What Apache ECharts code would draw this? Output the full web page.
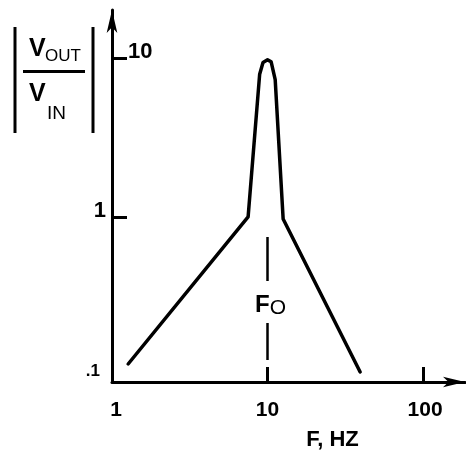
<!DOCTYPE html>
<html>
<head>
<meta charset="utf-8">
<script src="https://cdn.jsdelivr.net/npm/echarts@6/dist/echarts.min.js"></script>
<style>
  html, body { margin: 0; padding: 0; background: #fff; }
  #chart { width: 466px; height: 452px; }
</style>
</head>
<body>
<div id="chart"></div>
<script>
// Band-pass response: |Vout/Vin| against frequency (log–log)
const freqHz    = [1.27, 7.5, 8.9, 9.35, 10.0, 10.55, 11.2, 12.6, 39.4];
const gainRatio = [0.119, 1.0, 7.9, 9.35, 9.72, 9.45, 7.3, 0.97, 0.106];

// Axis ticks and labels
const xTickValues  = [10, 100];
const xLabelValues = [1, 10, 100];
const yTickValues  = [1, 10];
const yLeftLabels  = [0.1, 1];
const yRightLabels = [10];

// Centre frequency marker
const centreFreq = 10;
const centreLineTop = 0.748;
const centreLabelAt = 0.280;

// Axis extents (the arrows run past the last decade)
const xMin = 1, xMax = 186;
const yMin = 0.0917, yMax = 20.0;

const FONT = "'Liberation Sans', Arial, sans-serif";
const INK = '#000';

const chart = echarts.init(document.getElementById('chart'), null, { renderer: 'canvas' });

const curve = freqHz.map((f, i) => [f, gainRatio[i]]);

const bold = (size, extra) => Object.assign(
  { fontFamily: FONT, fontWeight: 'bold', fontSize: size, color: INK }, extra || {});

chart.setOption({
  animation: false,
  backgroundColor: '#fff',
  grid: { left: 112, right: 1, top: 10, bottom: 70, containLabel: false, outerBoundsMode: 'none' },
  xAxis: {
    type: 'log',
    logBase: 10,
    min: xMin,
    max: xMax,
    name: 'F, HZ',
    nameLocation: 'middle',
    nameGap: 47,
    nameTextStyle: bold(22, { padding: [0, 0, 0, 88] }),
    axisLine: {
      show: true,
      lineStyle: { color: INK, width: 3 },
      symbol: ['none', 'arrow'],
      symbolSize: [8, 22]
    },
    axisTick: {
      show: true, inside: true, length: 15,
      lineStyle: { color: INK, width: 3 },
      customValues: xTickValues
    },
    axisLabel: {
      customValues: xLabelValues,
      margin: 18,
      formatter: v => v === 1 ? '{a|1}' : (v === 100 ? '{c|100}' : '{b|10}'),
      rich: {
        a: bold(21, { padding: [0, 0, 0, 8] }),
        b: bold(21),
        c: bold(21, { padding: [0, 0, 0, 4] })
      }
    },
    splitLine: { show: false }
  },
  yAxis: [
    {
      type: 'log',
      logBase: 10,
      min: yMin,
      max: yMax,
      position: 'left',
      axisLine: {
        show: true,
        lineStyle: { color: INK, width: 3 },
        symbol: ['none', 'arrow'],
        symbolSize: [8, 23]
      },
      axisTick: {
        show: true, inside: true, length: 15,
        lineStyle: { color: INK, width: 3 },
        customValues: yTickValues
      },
      axisLabel: {
        customValues: yLeftLabels,
        margin: 6,
        formatter: v => v < 0.5 ? '{p|.1}' : '{o|1}',
        rich: {
          p: bold(17, { padding: [0, 6, 10, 0] }),
          o: bold(22, { padding: [0, 0, 12, 0] })
        }
      },
      splitLine: { show: false }
    },
    {
      type: 'log',
      logBase: 10,
      min: yMin,
      max: yMax,
      position: 'left',
      axisLine: { show: false },
      axisTick: { show: false },
      axisLabel: {
        customValues: yRightLabels,
        inside: true,
        margin: 16,
        formatter: v => '{t|' + v + '}',
        rich: { t: bold(22, { padding: [0, 0, 11, 0] }) }
      },
      splitLine: { show: false }
    }
  ],
  series: [
    {
      type: 'line',
      data: curve,
      showSymbol: false,
      symbol: 'none',
      lineStyle: { color: INK, width: 3.5, join: 'round', cap: 'round' },
      markLine: {
        silent: true,
        symbol: ['none', 'none'],
        label: { show: false },
        lineStyle: { color: INK, width: 2.5, type: [44, 42, 37, 8] },
        data: [[{ coord: [centreFreq, centreLineTop] }, { coord: [centreFreq, yMin] }]]
      },
      markPoint: {
        silent: true,
        symbol: 'circle',
        symbolSize: 0,
        data: [{ coord: [centreFreq, centreLabelAt] }],
        label: {
          show: true,
          position: 'inside',
          offset: [3, 0],
          formatter: '{f|F}{o|O}',
          rich: {
            f: bold(24),
            o: { fontFamily: FONT, fontSize: 21, color: INK, padding: [6, 0, 0, 0] }
          }
        }
      }
    }
  ],
  graphic: [
    // |Vout / Vin| axis title
    { type: 'rect', shape: { x: 13.5, y: 27, width: 3, height: 106 }, style: { fill: INK } },
    { type: 'rect', shape: { x: 91.5, y: 27, width: 3, height: 106 }, style: { fill: INK } },
    { type: 'rect', shape: { x: 23, y: 70, width: 62, height: 3 }, style: { fill: INK } },
    { type: 'text', x: 29, y: 49, style: { text: 'V', font: 'bold 25px ' + FONT, fill: INK, verticalAlign: 'middle' } },
    { type: 'text', x: 45, y: 56, style: { text: 'OUT', font: '17px ' + FONT, fill: INK, verticalAlign: 'middle' } },
    { type: 'text', x: 29, y: 94, style: { text: 'V', font: 'bold 25px ' + FONT, fill: INK, verticalAlign: 'middle' } },
    { type: 'text', x: 47, y: 114, style: { text: 'IN', font: '19px ' + FONT, fill: INK, verticalAlign: 'middle' } }
  ]
});
</script>
</body>
</html>
